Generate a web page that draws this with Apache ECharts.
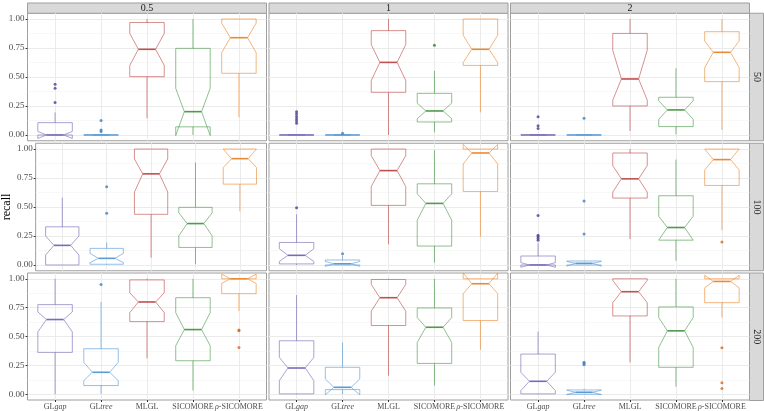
<!DOCTYPE html>
<html>
<head>
<meta charset="utf-8">
<script src="https://cdn.jsdelivr.net/npm/echarts@6/dist/echarts.min.js"></script>
<style>
  html, body { margin: 0; padding: 0; background: #fff; }
  #chart { width: 764px; height: 411px; }
</style>
</head>
<body>
<div id="chart"></div>
<script>
// facets and categories
const categories = ['GLgap', 'GLtree', 'MLGL', 'SICOMORE', 'ρ-SICOMORE'];
const tickLabels = ['GL{it|gap}', 'GL{it|tree}', 'MLGL', 'SICOMORE', '{it|ρ}-SICOMORE'];
const colLabels = ['0.5', '1', '2'];
const rowLabels = ['50', '100', '200'];
const yTicks = [0, 0.25, 0.5, 0.75, 1];
const yMinorTicks = [0.125, 0.375, 0.625, 0.875];

// box stats per method: [whisker low, Q1, median, Q3, whisker high, notch low, notch high]
const box_05_50 = [
  [0, 0, 0, 0.106, 0.195, -0.03, 0.03],
  [0, 0, 0, 0, 0, 0, 0],
  [0.144, 0.503, 0.739, 0.97, 1.0, 0.6, 0.876],
  [0, 0.07, 0.201, 0.747, 1.0, -0.005, 0.402],
  [0.152, 0.532, 0.839, 1.0, 1.0, 0.71, 0.965]
];
const box_1_50 = [
  [0, 0, 0, 0, 0, 0, 0],
  [0, 0, 0, 0, 0, 0, 0],
  [0, 0.368, 0.626, 0.90, 1.0, 0.47, 0.78],
  [0.023, 0.112, 0.207, 0.359, 0.552, 0.14, 0.275],
  [0.195, 0.60, 0.739, 1.0, 1.0, 0.625, 0.86]
];
const box_2_50 = [
  [0, 0, 0, 0, 0, 0, 0],
  [0, 0, 0, 0, 0, 0, 0],
  [0.034, 0.25, 0.483, 0.876, 1.0, 0.30, 0.73],
  [0.005, 0.072, 0.216, 0.325, 0.575, 0.135, 0.295],
  [0.043, 0.46, 0.713, 0.891, 1.0, 0.58, 0.81]
];
const box_05_100 = [
  [0, 0, 0.169, 0.329, 0.58, 0.086, 0.249],
  [0, 0.006, 0.057, 0.143, 0.194, 0.02, 0.10],
  [0.063, 0.437, 0.786, 1.0, 1.0, 0.629, 0.914],
  [0.006, 0.151, 0.357, 0.497, 0.883, 0.251, 0.45],
  [0.463, 0.697, 0.917, 1.0, 1.0, 0.84, 1.0]
];
const box_1_100 = [
  [0, 0.009, 0.083, 0.194, 0.437, 0.03, 0.14],
  [0, 0, 0.01, 0.043, 0.08, -0.012, 0.03],
  [0.177, 0.514, 0.814, 1.0, 1.0, 0.677, 0.943],
  [0.02, 0.163, 0.531, 0.70, 0.991, 0.386, 0.614],
  [0.243, 0.634, 0.966, 1.0, 1.0, 0.871, 1.04]
];
const box_2_100 = [
  [0, 0, 0, 0.077, 0.19, -0.02, 0.02],
  [0, 0, 0.014, 0.034, 0.034, -0.01, 0.03],
  [0.223, 0.577, 0.743, 0.966, 1.0, 0.629, 0.857],
  [0.037, 0.214, 0.323, 0.597, 0.909, 0.214, 0.42],
  [0.30, 0.686, 0.909, 1.0, 1.0, 0.82, 1.0]
];
const box_05_200 = [
  [0, 0.362, 0.647, 0.776, 1.0, 0.54, 0.713],
  [0.003, 0.075, 0.19, 0.394, 0.80, 0.118, 0.276],
  [0.31, 0.629, 0.799, 0.99, 1.0, 0.707, 0.879],
  [0.032, 0.29, 0.56, 0.836, 1.0, 0.42, 0.707],
  [0.721, 0.871, 1.0, 1.0, 1.0, 0.96, 1.04]
];
const box_1_200 = [
  [0, 0.003, 0.227, 0.463, 0.859, 0.118, 0.319],
  [0, 0.04, 0.06, 0.233, 0.448, -0.005, 0.132],
  [0.161, 0.595, 0.836, 0.994, 1.0, 0.72, 0.951],
  [0.075, 0.267, 0.58, 0.747, 1.0, 0.448, 0.664],
  [0.385, 0.638, 0.957, 1.0, 1.0, 0.871, 1.05]
];
const box_2_200 = [
  [0, 0.003, 0.112, 0.348, 0.543, 0.032, 0.19],
  [0, 0, 0.017, 0.037, 0.046, -0.005, 0.035],
  [0.276, 0.678, 0.888, 1.0, 1.0, 0.793, 0.986],
  [0.066, 0.233, 0.549, 0.756, 1.0, 0.405, 0.664],
  [0.664, 0.793, 0.977, 1.0, 1.0, 0.922, 1.03]
];

// outliers: [method index, value]
const out_05_50 = [[0, 0.437], [0, 0.402], [0, 0.279], [1, 0.124], [1, 0.043], [1, 0.029]];
const out_1_50 = [[0, 0.20], [0, 0.18], [0, 0.16], [0, 0.14], [0, 0.12], [0, 0.10], [1, 0.015], [3, 0.773]];
const out_2_50 = [[0, 0.158], [0, 0.080], [0, 0.055], [1, 0.144]];
const out_05_100 = [[1, 0.674], [1, 0.446]];
const out_1_100 = [[0, 0.494], [1, 0.097]];
const out_2_100 = [[0, 0.426], [0, 0.257], [0, 0.243], [0, 0.229], [0, 0.214], [1, 0.551], [1, 0.266], [4, 0.197]];
const out_05_200 = [[1, 0.951], [4, 0.557], [4, 0.55], [4, 0.405]];
const out_1_200 = [];
const out_2_200 = [[1, 0.276], [1, 0.267], [1, 0.256], [4, 0.402], [4, 0.10], [4, 0.049]];

const boxGrid = [
  [box_05_50, box_1_50, box_2_50],
  [box_05_100, box_1_100, box_2_100],
  [box_05_200, box_1_200, box_2_200]
];
const outGrid = [
  [out_05_50, out_1_50, out_2_50],
  [out_05_100, out_1_100, out_2_100],
  [out_05_200, out_1_200, out_2_200]
];

const baseColors = ['#7a6bb8', '#5b9bd5', '#c0504d', '#4e9a4e', '#eb8a35'];
const dotColors = ['#4b3f93', '#3f7fbf', '#b03a37', '#2e7d32', '#d9661f'];
const FONT = 'Liberation Serif';

const chart = echarts.init(document.getElementById('chart'));

const colLeft = [27.5, 269, 510.5];
const panelW = 239;
const rowTop = [13.25, 143.25, 273];
const panelH = 127.5;

// notched box like ggplot's geom_boxplot(notch = TRUE)
const renderBox = (params, api) => {
  const m = api.value(0);
  const wlo = api.value(1), q1 = api.value(2), med = api.value(3);
  const q3 = api.value(4), whi = api.value(5), nlo = api.value(6), nhi = api.value(7);
  const half = 0.375, indent = 0.1875;
  const p = (dx, y) => api.coord([m + dx, y]);
  const color = baseColors[m];
  const pts = [
    p(-half, q3), p(-half, nhi), p(-half + indent, med), p(-half, nlo), p(-half, q1),
    p(half, q1), p(half, nlo), p(half - indent, med), p(half, nhi), p(half, q3)
  ];
  const seg = (a, b, w, op) => ({
    type: 'line',
    shape: { x1: a[0], y1: a[1], x2: b[0], y2: b[1] },
    style: { stroke: color, lineWidth: w, opacity: op }
  });
  return {
    type: 'group',
    children: [
      seg(p(0, q3), p(0, whi), 0.9, 0.75),
      seg(p(0, q1), p(0, wlo), 0.9, 0.75),
      {
        type: 'polygon',
        shape: { points: pts },
        style: { fill: 'none', stroke: color, lineWidth: 0.9, opacity: 0.7 }
      },
      seg(p(-half + indent, med), p(half - indent, med), 1.6, 1)
    ]
  };
};

const grids = [], xAxes = [], yAxes = [], series = [], graphics = [];

for (let r = 0; r < 3; r++) {
  for (let c = 0; c < 3; c++) {
    const g = r * 3 + c;
    grids.push({
      left: colLeft[c], top: rowTop[r], width: panelW, height: panelH,
      show: true, borderColor: '#9e9e9e', borderWidth: 1, backgroundColor: '#fff'
    });
    xAxes.push({
      type: 'value', gridIndex: g, min: -0.6, max: 4.6, position: 'bottom',
      axisLine: { show: false, onZero: false },
      axisTick: { show: r === 2, length: 2, customValues: [0, 1, 2, 3, 4], lineStyle: { color: '#333' } },
      axisLabel: {
        show: r === 2, customValues: [0, 1, 2, 3, 4], margin: 3,
        hideOverlap: false, showMinLabel: true, showMaxLabel: true,
        formatter: v => tickLabels[Math.round(v)],
        fontFamily: FONT, fontSize: 8, color: '#4d4d4d',
        rich: { it: { fontFamily: FONT, fontSize: 8, fontStyle: 'italic', color: '#4d4d4d' } }
      },
      splitLine: { show: true, lineStyle: { color: '#ebebeb', width: 1 } }
    });
    const yMain = {
      type: 'value', gridIndex: g, min: -0.05, max: 1.05, position: 'left',
      axisLine: { show: false, onZero: false },
      axisTick: { show: c === 0, length: 2, customValues: yTicks, lineStyle: { color: '#333' } },
      axisLabel: {
        show: c === 0, customValues: yTicks, margin: 3,
        formatter: v => v.toFixed(2),
        fontFamily: FONT, fontSize: 9, color: '#4d4d4d'
      },
      splitLine: { show: true, lineStyle: { color: '#ebebeb', width: 1 } }
    };
    if (r === 1 && c === 0) {
      yMain.name = 'recall';
      yMain.nameLocation = 'middle';
      yMain.nameGap = 19;
      yMain.nameTextStyle = { fontFamily: FONT, fontSize: 12, color: '#000' };
    }
    yAxes.push(yMain);
    yAxes.push({
      type: 'value', gridIndex: g, min: -0.05, max: 1.05, position: 'left',
      axisLine: { show: false, onZero: false },
      axisTick: { show: false, customValues: yMinorTicks },
      axisLabel: { show: false },
      splitLine: { show: true, lineStyle: { color: '#f4f4f4', width: 0.6 } }
    });

    series.push({
      type: 'custom',
      xAxisIndex: g,
      yAxisIndex: 2 * g,
      renderItem: renderBox,
      encode: { x: 0, y: [1, 2, 3, 4, 5, 6, 7] },
      data: boxGrid[r][c].map((s, i) => [i].concat(s)),
      z: 3
    });
    series.push({
      type: 'scatter',
      xAxisIndex: g,
      yAxisIndex: 2 * g,
      symbol: 'circle',
      symbolSize: 3,
      itemStyle: { color: p => dotColors[p.value[0]] },
      data: outGrid[r][c],
      z: 4
    });
  }
}

// facet strips on top
colLabels.forEach((t, c) => {
  graphics.push({
    type: 'rect',
    shape: { x: colLeft[c], y: 3, width: panelW, height: 10.25 },
    style: { fill: '#d9d9d9', stroke: '#9e9e9e', lineWidth: 1 }
  });
  graphics.push({
    type: 'text', x: colLeft[c] + panelW / 2, y: 8.2,
    style: { text: t, fill: '#1a1a1a', font: '10px "' + FONT + '"', align: 'center', verticalAlign: 'middle' }
  });
});
// facet strips on the right
rowLabels.forEach((t, r) => {
  graphics.push({
    type: 'rect',
    shape: { x: 749.5, y: rowTop[r], width: 14, height: panelH },
    style: { fill: '#d9d9d9', stroke: '#9e9e9e', lineWidth: 1 }
  });
  graphics.push({
    type: 'text', x: 756.5, y: rowTop[r] + panelH / 2, rotation: -Math.PI / 2,
    style: { text: t, fill: '#1a1a1a', font: '10px "' + FONT + '"', align: 'center', verticalAlign: 'middle' }
  });
});

chart.setOption({
  backgroundColor: '#fff',
  animation: false,
  grid: grids,
  xAxis: xAxes,
  yAxis: yAxes,
  series: series,
  graphic: graphics
});
</script>
</body>
</html>
